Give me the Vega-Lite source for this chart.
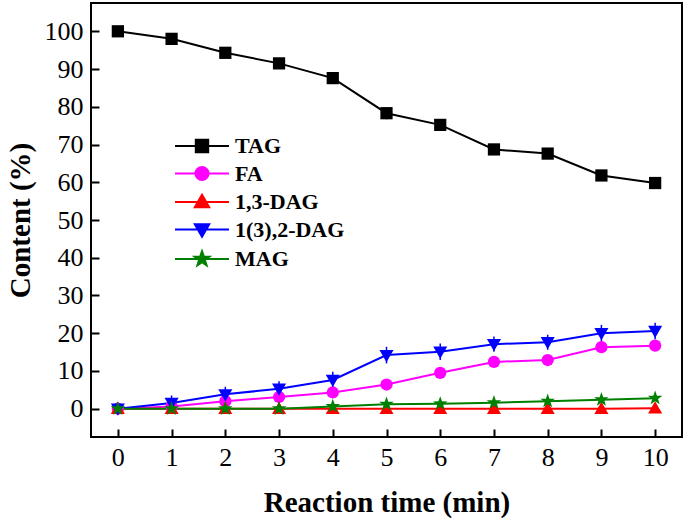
{
  "$schema": "https://vega.github.io/schema/vega-lite/v6.json",
  "width": 591,
  "height": 434,
  "autosize": {"type": "none"},
  "padding": {"left": 91, "top": 3, "right": 3, "bottom": 88},
  "background": "white",
  "config": {
    "view": {"stroke": "black", "strokeWidth": 2},
    "axis": {
      "grid": false,
      "domain": false,
      "tickColor": "black",
      "tickWidth": 2,
      "tickSize": -8,
      "labelFont": "Liberation Serif",
      "labelFontSize": 26,
      "labelColor": "black",
      "titleFont": "Liberation Serif",
      "titleFontWeight": "bold",
      "titleFontSize": 29,
      "titleColor": "black"
    },
    "legend": {
      "orient": "none",
      "legendX": 100,
      "legendY": 132,
      "padding": 0,
      "symbolSize": 400,
      "symbolStrokeWidth": 2,
      "labelFont": "Liberation Serif",
      "labelFontWeight": "bold",
      "labelFontSize": 22,
      "labelColor": "black",
      "labelOffset": 22,
      "rowPadding": 5.5
    }
  },
  "data": {
    "values": [
      {"t": 0, "series": "TAG", "v": 100, "err": 0.3},
      {"t": 1, "series": "TAG", "v": 98.0, "err": 0.8},
      {"t": 2, "series": "TAG", "v": 94.3, "err": 0.8},
      {"t": 3, "series": "TAG", "v": 91.5, "err": 0.8},
      {"t": 4, "series": "TAG", "v": 87.6, "err": 0.8},
      {"t": 5, "series": "TAG", "v": 78.3, "err": 1.6},
      {"t": 6, "series": "TAG", "v": 75.2, "err": 1.3},
      {"t": 7, "series": "TAG", "v": 68.7, "err": 0.6},
      {"t": 8, "series": "TAG", "v": 67.6, "err": 0.7},
      {"t": 9, "series": "TAG", "v": 61.8, "err": 0.8},
      {"t": 10, "series": "TAG", "v": 59.8, "err": 0.8},
      {"t": 0, "series": "FA", "v": 0, "err": 0.2},
      {"t": 1, "series": "FA", "v": 0.6, "err": 0.2},
      {"t": 2, "series": "FA", "v": 2.0, "err": 0.3},
      {"t": 3, "series": "FA", "v": 3.1, "err": 0.3},
      {"t": 4, "series": "FA", "v": 4.3, "err": 0.3},
      {"t": 5, "series": "FA", "v": 6.4, "err": 0.4},
      {"t": 6, "series": "FA", "v": 9.5, "err": 0.5},
      {"t": 7, "series": "FA", "v": 12.4, "err": 0.6},
      {"t": 8, "series": "FA", "v": 12.9, "err": 0.6},
      {"t": 9, "series": "FA", "v": 16.3, "err": 0.6},
      {"t": 10, "series": "FA", "v": 16.7, "err": 0.6},
      {"t": 0, "series": "1,3-DAG", "v": 0, "err": 0.2},
      {"t": 1, "series": "1,3-DAG", "v": 0, "err": 0.2},
      {"t": 2, "series": "1,3-DAG", "v": 0, "err": 0.2},
      {"t": 3, "series": "1,3-DAG", "v": 0, "err": 0.2},
      {"t": 4, "series": "1,3-DAG", "v": 0, "err": 0.2},
      {"t": 5, "series": "1,3-DAG", "v": 0, "err": 0.2},
      {"t": 6, "series": "1,3-DAG", "v": 0, "err": 0.2},
      {"t": 7, "series": "1,3-DAG", "v": 0, "err": 0.2},
      {"t": 8, "series": "1,3-DAG", "v": 0, "err": 0.2},
      {"t": 9, "series": "1,3-DAG", "v": 0, "err": 0.3},
      {"t": 10, "series": "1,3-DAG", "v": 0.1, "err": 1.2},
      {"t": 0, "series": "1(3),2-DAG", "v": 0, "err": 1.2},
      {"t": 1, "series": "1(3),2-DAG", "v": 1.5, "err": 2.0},
      {"t": 2, "series": "1(3),2-DAG", "v": 3.8, "err": 2.0},
      {"t": 3, "series": "1(3),2-DAG", "v": 5.3, "err": 2.0},
      {"t": 4, "series": "1(3),2-DAG", "v": 7.6, "err": 2.2},
      {"t": 5, "series": "1(3),2-DAG", "v": 14.2, "err": 2.2},
      {"t": 6, "series": "1(3),2-DAG", "v": 15.1, "err": 2.2},
      {"t": 7, "series": "1(3),2-DAG", "v": 17.1, "err": 2.0},
      {"t": 8, "series": "1(3),2-DAG", "v": 17.6, "err": 2.0},
      {"t": 9, "series": "1(3),2-DAG", "v": 20.0, "err": 2.2},
      {"t": 10, "series": "1(3),2-DAG", "v": 20.6, "err": 2.2},
      {"t": 0, "series": "MAG", "v": 0, "err": 0.2},
      {"t": 1, "series": "MAG", "v": 0, "err": 0.2},
      {"t": 2, "series": "MAG", "v": 0, "err": 0.2},
      {"t": 3, "series": "MAG", "v": 0, "err": 0.2},
      {"t": 4, "series": "MAG", "v": 0.6, "err": 0.2},
      {"t": 5, "series": "MAG", "v": 1.2, "err": 0.3},
      {"t": 6, "series": "MAG", "v": 1.3, "err": 0.3},
      {"t": 7, "series": "MAG", "v": 1.6, "err": 0.3},
      {"t": 8, "series": "MAG", "v": 2.0, "err": 0.3},
      {"t": 9, "series": "MAG", "v": 2.4, "err": 0.3},
      {"t": 10, "series": "MAG", "v": 2.8, "err": 0.4}
    ]
  },
  "encoding": {
    "x": {
      "field": "t",
      "type": "quantitative",
      "title": "Reaction time (min)",
      "scale": {"domain": [-0.5, 10.5], "nice": false, "zero": false},
      "axis": {"values": [0, 1, 2, 3, 4, 5, 6, 7, 8, 9, 10], "labelPadding": 15, "titlePadding": 18}
    },
    "y": {
      "field": "v",
      "type": "quantitative",
      "title": "Content (%)",
      "scale": {"domain": [-7.5, 107.5], "nice": false, "zero": false},
      "axis": {"values": [0, 10, 20, 30, 40, 50, 60, 70, 80, 90, 100], "labelPadding": 16, "titlePadding": 9}
    },
    "color": {
      "field": "series",
      "type": "nominal",
      "scale": {
        "domain": ["TAG", "FA", "1,3-DAG", "1(3),2-DAG", "MAG"],
        "range": ["#000000", "#ff00ff", "#ff0000", "#0000ff", "#008000"]
      },
      "legend": {
        "title": null,
        "encode": {
          "symbols": {
            "update": {
              "shape": {"signal": "datum.value === 'TAG' ? 'M-2.7,0H2.7M-0.62,-0.62H0.62V0.62H-0.62Z' : datum.value === 'FA' ? 'M-2.7,0H2.7M-0.66,0A0.66,0.66,0,1,0,0.66,0A0.66,0.66,0,1,0,-0.66,0Z' : datum.value === '1,3-DAG' ? 'M-2.7,0H2.7M0,-0.72L0.72,0.52L-0.72,0.52Z' : datum.value === '1(3),2-DAG' ? 'M-2.7,0H2.7M0,0.72L0.72,-0.52L-0.72,-0.52Z' : 'M-2.7,0H2.7M0,-0.78L0.183,-0.253L0.742,-0.241L0.296,0.097L0.459,0.631L0,0.312L-0.459,0.631L-0.296,0.097L-0.742,-0.241L-0.183,-0.253Z'"},
              "strokeWidth": {"value": 2},
              "opacity": {"value": 1}
            }
          }
        }
      }
    }
  },
  "layer": [
    {"mark": {"type": "line", "strokeWidth": 2}},
    {
      "mark": {"type": "errorbar", "thickness": 1.5},
      "encoding": {"yError": {"field": "err"}}
    },
    {
      "mark": {"type": "point", "filled": true, "opacity": 1, "size": 150},
      "encoding": {
        "shape": {
          "field": "series",
          "type": "nominal",
          "scale": {
            "domain": ["MAG", "1(3),2-DAG", "1,3-DAG", "FA", "TAG"],
            "range": [
              "M0,-1.25L0.294,-0.405L1.189,-0.386L0.475,0.155L0.735,1.011L0,0.5L-0.735,1.011L-0.475,0.155L-1.189,-0.386L-0.294,-0.405Z",
              "M0,1.15L1.15,-0.85L-1.15,-0.85Z",
              "M0,-1.15L1.15,0.85L-1.15,0.85Z",
              "circle",
              "square"
            ]
          },
          "legend": null
        }
      }
    }
  ]
}
